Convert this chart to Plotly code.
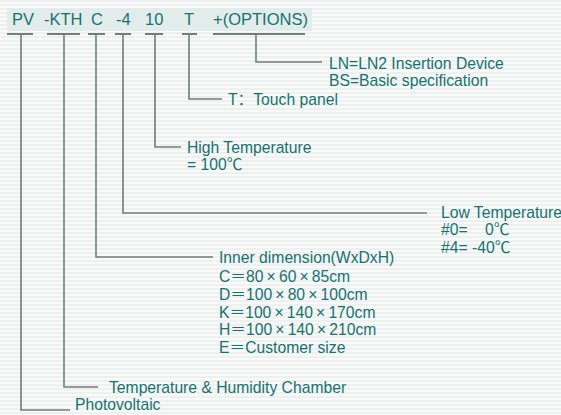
import plotly.graph_objects as go

# ---- content ----
codes = ["PV", "-KTH", "C", "-4", "10", "T", "+(OPTIONS)"]
descriptions = [
    ["Photovoltaic"],
    ["Temperature & Humidity Chamber"],
    ["Inner dimension(WxDxH)",
     "C＝80\u2009×\u200960\u2009×\u200985cm",
     "D＝100\u2009×\u200980\u2009×\u2009100cm",
     "K＝100\u2009×\u2009140\u2009×\u2009170cm",
     "H＝100\u2009×\u2009140\u2009×\u2009210cm",
     "E＝Customer size"],
    ["Low Temperature", "#0=\u00a0\u00a0\u00a0\u00a00℃", "#4= -40℃"],
    ["High Temperature", "= 100℃"],
    ["T：Touch panel"],
    ["LN=LN2 Insertion Device", "BS=Basic specification"],
]

# ---- layout geometry (pixels, y downward) ----
code_x = [22.5, 63, 97, 123, 154, 189, 260]
under_x0 = [7, 47, 88, 115, 145, 182, 213]
under_x1 = [33, 80, 105, 131, 163, 197, 305]
stem_x = [21, 64, 96, 123, 155, 189, 256]
branch_y = [410, 387, 257, 213, 147, 99, 62]
branch_x1 = [70, 98, 213, 427, 181, 222, 322]
label_x = [73, 107, 217, 439, 185, 226, 327]
label_y0 = [404.5, 387, 257, 212, 147, 99, 63]

W, H = 561, 415
TEXT = "#17726f"
LINE = "#6e7f7c"
FONT = "Arial, 'Liberation Sans', 'Noto Sans CJK SC', sans-serif"
UNDER_Y = 34
SPACING = 17.7

fig = go.Figure()

for i in range(len(codes)):
    fig.add_trace(go.Scatter(x=[under_x0[i], under_x1[i]], y=[UNDER_Y, UNDER_Y],
                             mode="lines", line=dict(color=LINE, width=2),
                             hoverinfo="skip", showlegend=False))
    fig.add_trace(go.Scatter(x=[stem_x[i], stem_x[i], branch_x1[i]],
                             y=[UNDER_Y, branch_y[i], branch_y[i]],
                             mode="lines", line=dict(color=LINE, width=1.6),
                             hoverinfo="skip", showlegend=False))

annotations = []
for i, c in enumerate(codes):
    annotations.append(dict(x=code_x[i], y=19, text=c, showarrow=False,
                            xanchor="center", yanchor="middle",
                            font=dict(family=FONT, size=16.5, color=TEXT)))

for i, lines in enumerate(descriptions):
    for j, t in enumerate(lines):
        yy = label_y0[i] + j * SPACING + (2 if (j > 0 and len(lines) > 3) else 0)
        annotations.append(dict(x=label_x[i], y=yy, text=t, showarrow=False,
                                xanchor="left", yanchor="middle",
                                font=dict(family=FONT, size=15.7, color=TEXT)))

# faint horizontal stripes of the background
shapes = []
for k in range(0, H, 4):
    shapes.append(dict(type="rect", xref="x", yref="y", x0=0, x1=W, y0=k, y1=k + 2,
                       fillcolor="#eef0ef", line=dict(width=0), layer="below"))
shapes.append(dict(type="rect", xref="x", yref="y", x0=7, x1=312, y0=8, y1=31,
                   fillcolor="#e2edeb", line=dict(width=0), layer="below"))

fig.update_layout(
    width=W, height=H,
    margin=dict(l=0, r=0, t=0, b=0),
    paper_bgcolor="#f8f9f9", plot_bgcolor="#f8f9f9",
    xaxis=dict(range=[0, W], visible=False, fixedrange=True),
    yaxis=dict(range=[H, 0], visible=False, fixedrange=True),
    annotations=annotations, shapes=shapes,
)

fig.write_html("out.html", config={"displayModeBar": False},
               post_script="document.body.style.margin='0';document.body.style.overflow='hidden';")
